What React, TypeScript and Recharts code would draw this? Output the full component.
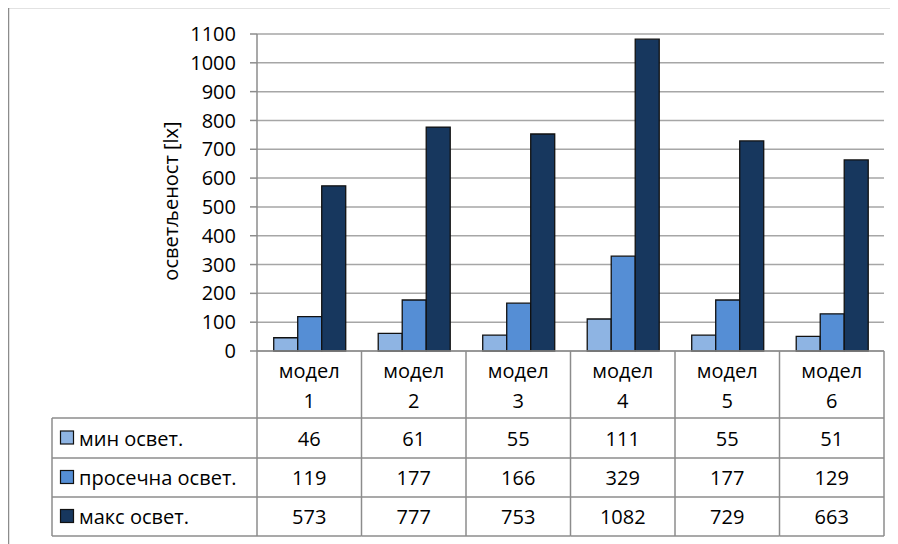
import React from "react";
import {
  BarChart,
  Bar,
  XAxis,
  YAxis,
  CartesianGrid,
  Customized,
} from "recharts";

const categories = ["модел 1", "модел 2", "модел 3", "модел 4", "модел 5", "модел 6"];
const minValues = [46, 61, 55, 111, 55, 51];
const avgValues = [119, 177, 166, 329, 177, 129];
const maxValues = [573, 777, 753, 1082, 729, 663];
const seriesNames = ["мин освет.", "просечна освет.", "макс освет."];
const seriesColors = ["#8EB4E3", "#558ED5", "#17375E"];
const yTicks = [0, 100, 200, 300, 400, 500, 600, 700, 800, 900, 1000, 1100];
const yLabel = "осветљеност [lx]";

const data = categories.map((name, i) => ({
  name,
  min: minValues[i],
  avg: avgValues[i],
  max: maxValues[i],
}));
const seriesRows = [minValues, avgValues, maxValues];

// layout (px, inside the chart svg)
const W = 890;
const H = 537;
const PLOT_LEFT = 249;
const PLOT_RIGHT = 876;
const PLOT_TOP = 27;
const PLOT_BOTTOM = 344;
const COL_W = (PLOT_RIGHT - PLOT_LEFT) / categories.length;
const ROW_LINES = [411, 451, 490, 529];
const LEGEND_LEFT = 44;
const FONT = "'Open Sans', 'Noto Sans', sans-serif";
const FS = 20;
const LINE = "#8c8c8c";

function TableColumn(props: any) {
  const { x, payload } = props;
  const idx = payload.index;
  const left = x - COL_W / 2;
  const right = x + COL_W / 2;
  const [word, num] = String(payload.value).split(" ");
  return (
    <g>
      <line x1={left} x2={left} y1={PLOT_BOTTOM} y2={ROW_LINES[3]} stroke={LINE} strokeWidth={1.5} />
      {idx === categories.length - 1 && (
        <line x1={right} x2={right} y1={PLOT_BOTTOM} y2={ROW_LINES[3]} stroke={LINE} strokeWidth={1.5} />
      )}
      {ROW_LINES.map((y) => (
        <line key={y} x1={left} x2={right} y1={y} y2={y} stroke={LINE} strokeWidth={1.5} />
      ))}
      <text x={x} y={363} textAnchor="middle" dominantBaseline="central" fontSize={FS} fontFamily={FONT} fill="#000">
        {word}
      </text>
      <text x={x} y={393} textAnchor="middle" dominantBaseline="central" fontSize={FS} fontFamily={FONT} fill="#000">
        {num}
      </text>
      {seriesRows.map((row, r) => (
        <text
          key={r}
          x={x}
          y={(ROW_LINES[r] + ROW_LINES[r + 1]) / 2}
          textAnchor="middle"
          dominantBaseline="central"
          fontSize={FS}
          fontFamily={FONT}
          fill="#000"
        >
          {row[idx]}
        </text>
      ))}
    </g>
  );
}

function Extras() {
  return (
    <g>
      <rect x={0.5} y={0.5} width={885} height={560} fill="none" stroke="#8c8c8c" strokeWidth={1.5} />
      <text
        x={162}
        y={194}
        transform="rotate(-90 162 194)"
        textAnchor="middle"
        dominantBaseline="central"
        fontSize={FS}
        fontFamily={FONT}
        fill="#000"
      >
        {yLabel}
      </text>
      <line x1={LEGEND_LEFT} x2={LEGEND_LEFT} y1={ROW_LINES[0]} y2={ROW_LINES[3]} stroke={LINE} strokeWidth={1.5} />
      {ROW_LINES.map((y) => (
        <line key={y} x1={LEGEND_LEFT} x2={PLOT_LEFT} y1={y} y2={y} stroke={LINE} strokeWidth={1.5} />
      ))}
      {seriesNames.map((name, r) => {
        const cy = (ROW_LINES[r] + ROW_LINES[r + 1]) / 2;
        return (
          <g key={name}>
            <rect x={52.5} y={cy - 7} width={13} height={13} fill={seriesColors[r]} stroke="#111" strokeWidth={1.2} />
            <text x={71} y={cy} dominantBaseline="central" fontSize={FS} fontFamily={FONT} fill="#000">
              {name}
            </text>
          </g>
        );
      })}
    </g>
  );
}

export default function App() {
  return (
    <div style={{ marginTop: -1, width: W, height: H }}>
      <BarChart
        width={W}
        height={H}
        data={data}
        margin={{ top: PLOT_TOP, right: W - PLOT_RIGHT, bottom: 0, left: PLOT_LEFT - 90 }}
        barCategoryGap="16%"
        barGap={0}
      >
        <CartesianGrid vertical={false} stroke="#a6a6a6" strokeWidth={1.5} />
        <XAxis
          dataKey="name"
          height={H - PLOT_BOTTOM}
          tickLine={false}
          axisLine={{ stroke: "#8c8c8c", strokeWidth: 1.5 }}
          interval={0}
          tick={<TableColumn />}
        />
        <YAxis
          width={90}
          domain={[0, 1100]}
          ticks={yTicks}
          interval={0}
          tickSize={7}
          tickMargin={14}
          tickLine={{ stroke: "#8c8c8c", strokeWidth: 1.5 }}
          axisLine={{ stroke: "#8c8c8c", strokeWidth: 1.5 }}
          tick={{ fill: "#000", fontSize: FS, fontFamily: FONT }}
        />
        <Bar dataKey="min" name={seriesNames[0]} fill={seriesColors[0]} stroke="#111" strokeWidth={1.3} isAnimationActive={false} />
        <Bar dataKey="avg" name={seriesNames[1]} fill={seriesColors[1]} stroke="#111" strokeWidth={1.3} isAnimationActive={false} />
        <Bar dataKey="max" name={seriesNames[2]} fill={seriesColors[2]} stroke="#111" strokeWidth={1.3} isAnimationActive={false} />
        <Customized component={Extras} />
      </BarChart>
    </div>
  );
}
